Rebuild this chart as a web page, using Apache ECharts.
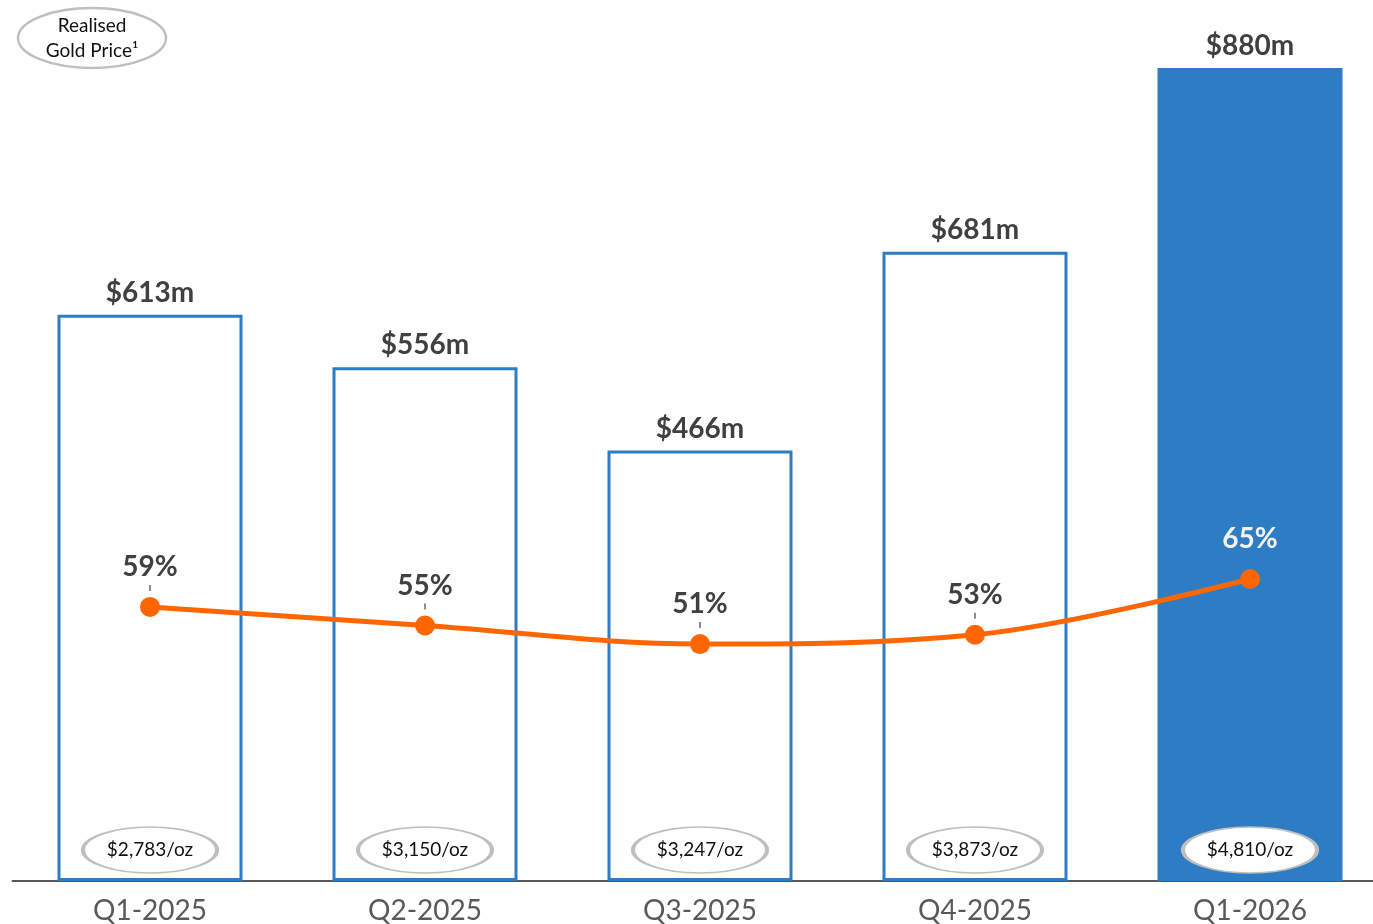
<!DOCTYPE html>
<html>
<head>
<meta charset="utf-8">
<script src="https://cdn.jsdelivr.net/npm/echarts@6/dist/echarts.min.js"></script>
<style>html,body{margin:0;padding:0;background:#fff}#c{width:1373px;height:924px}</style>
</head>
<body>
<div id="c"></div>
<script>
const categories = ['Q1-2025', 'Q2-2025', 'Q3-2025', 'Q4-2025', 'Q1-2026'];
const revenue = [613, 556, 466, 681, 880];
const margin = [59, 55, 51, 53, 65];
const goldPrice = ['$2,783/oz', '$3,150/oz', '$3,247/oz', '$3,873/oz', '$4,810/oz'];
const baseline = [0, 0, 0, 0, 0];

const BLUE = '#2E7DC4', ORANGE = '#FF6600', TXT = '#404040';
const FONT = 'Lato, "Open Sans", sans-serif';
const last = categories.length - 1;

const chart = echarts.init(document.getElementById('c'), null, {renderer: 'canvas'});
chart.setOption({
  animation: false,
  backgroundColor: '#fff',
  grid: {left: 12.5, width: 1375, top: 68, bottom: 43, outerBoundsMode: 'none', containLabel: false},
  xAxis: {
    type: 'category', data: categories,
    axisLine: {lineStyle: {color: '#595959', width: 2}},
    axisTick: {show: false},
    axisLabel: {color: '#595959', fontSize: 28, fontFamily: FONT, margin: 16}
  },
  yAxis: [
    {type: 'value', min: 0, max: 880, show: false, splitLine: {show: false}},
    {type: 'value', min: 0, max: 175, show: false, splitLine: {show: false}}
  ],
  graphic: [
    {type: 'ellipse', shape: {cx: 92, cy: 38, rx: 74, ry: 30},
     style: {fill: '#fff', stroke: '#bfbfbf', lineWidth: 2.5}},
    {type: 'text', x: 92, y: 38,
     style: {text: 'Realised\nGold Price¹', fontSize: 19, fontFamily: FONT, fill: '#111',
             align: 'center', verticalAlign: 'middle', lineHeight: 25}}
  ],
  series: [
    {
      type: 'bar', yAxisIndex: 0, barWidth: 185,
      data: revenue.map((v, i) => ({
        value: v,
        itemStyle: i === last
          ? {color: BLUE, borderColor: BLUE, borderWidth: 3}
          : {color: '#fff', borderColor: BLUE, borderWidth: 3}
      })),
      label: {show: true, position: 'top', distance: 8, color: TXT, fontSize: 28,
              fontWeight: 'bold', fontFamily: FONT, formatter: p => '$' + p.value + 'm'},
      z: 1
    },
    {
      type: 'line', yAxisIndex: 1, smooth: 0.35, symbol: 'circle', symbolSize: 20,
      lineStyle: {color: ORANGE, width: 5}, itemStyle: {color: ORANGE},
      data: margin.map((v, i) => ({
        value: v,
        label: i === last ? {color: '#f2f2f2', rich: {t: {backgroundColor: 'transparent'}}} : {}
      })),
      label: {
        show: true, position: 'top', distance: 3,
        color: TXT, fontSize: 28, fontWeight: 'bold', fontFamily: FONT,
        formatter: p => '{v|' + p.value + '%}\n{t|}',
        rich: {
          v: {fontSize: 28, fontWeight: 'bold', fontFamily: FONT, lineHeight: 30},
          t: {width: 1.2, height: 6, backgroundColor: TXT, lineHeight: 12}
        }
      },
      z: 3
    },
    {
      type: 'scatter', yAxisIndex: 0, symbol: 'circle', symbolSize: [134, 46],
      symbolOffset: [0, -31],
      itemStyle: {color: '#fff', borderColor: '#bfbfbf', borderWidth: 2.5, opacity: 1},
      data: baseline,
      label: {show: true, position: 'inside', color: '#111', fontSize: 19, fontFamily: FONT,
              formatter: p => goldPrice[p.dataIndex]},
      z: 4, silent: true
    }
  ]
});
</script>
</body>
</html>
